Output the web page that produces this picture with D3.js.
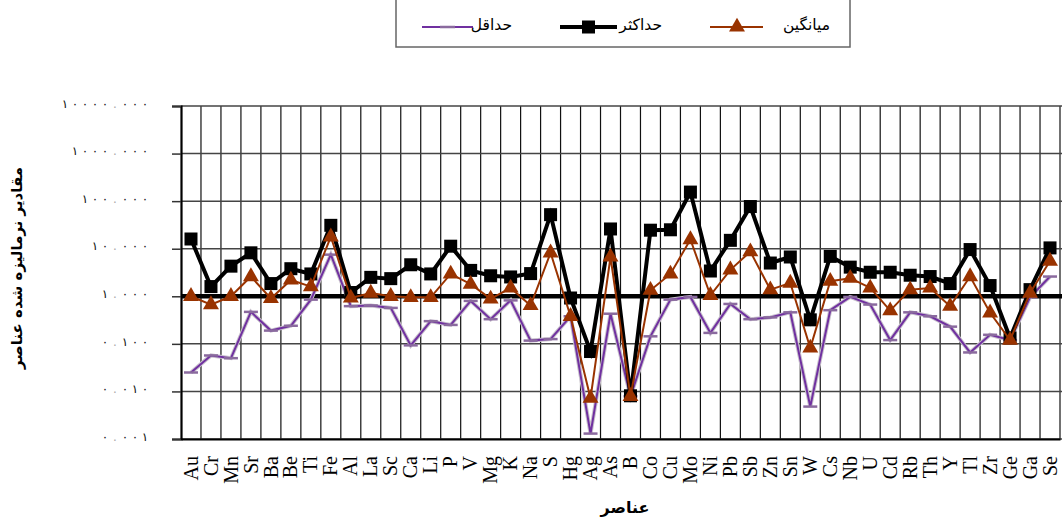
<!DOCTYPE html>
<html>
<head>
<meta charset="utf-8">
<script src="https://cdn.jsdelivr.net/npm/d3@7"></script>
<style>
  html, body { margin: 0; padding: 0; background: #fff; }
  svg { display: block; }
</style>
</head>
<body>
<svg id="chart" width="1062" height="525"></svg>
<script>
const categories = ["Au","Cr","Mn","Sr","Ba","Be","Ti","Fe","Al","La","Sc","Ca","Li","P","V","Mg","K","Na","S","Hg","Ag","As","B","Co","Cu","Mo","Ni","Pb","Sb","Zn","Sn","W","Cs","Nb","U","Cd","Rb","Th","Y","Tl","Zr","Ge","Ga","Se"];
const maxValues = [16,1.6,4.3,8.2,1.85,3.8,2.95,31,1.2,2.5,2.35,4.6,2.95,11.3,3.5,2.7,2.55,3.0,52,0.92,0.069,26,0.0081,24.5,25,155,3.4,15,77,5.0,6.7,0.32,6.9,4.1,3.2,3.2,2.77,2.6,1.85,9.6,1.68,0.133,1.38,10.4];
const meanValues = [1.0,0.67,1.0,2.6,0.9,2.2,1.6,17.8,0.92,1.17,1.0,0.95,0.95,2.95,1.8,0.88,1.5,0.64,8.2,0.38,0.0072,6.7,0.0079,1.34,2.95,15.6,1.05,3.6,8.7,1.38,1.9,0.082,2.07,2.4,1.5,0.5,1.38,1.5,0.62,2.6,0.45,0.12,1.17,5.5];
const minValues = [0.025,0.057,0.05,0.47,0.19,0.24,0.85,7.5,0.62,0.64,0.57,0.093,0.30,0.25,0.8,0.33,0.82,0.117,0.126,0.38,0.0013,0.43,0.0079,0.144,0.85,0.97,0.17,0.69,0.33,0.36,0.46,0.0048,0.51,0.97,0.67,0.12,0.46,0.38,0.23,0.066,0.155,0.12,0.95,2.6];
const tickValues = [0.001,0.01,0.1,1,10,100,1000,10000];
const tickLabels = ["٠.٠٠١","٠.٠١٠","٠.١٠٠","١.٠٠٠","١٠.٠٠٠","١٠٠.٠٠٠","١٠٠٠.٠٠٠","١٠٠٠٠.٠٠٠"];
const seriesNames = {mean: "میانگین", max: "حداکثر", min: "حداقل"};
const yTitle = "مقادیر نرمالیزه شده عناصر";
const xTitle = "عناصر";

const svg = d3.select("#chart");
const pLeft = 181, pRight = 1060, pTop = 106, pBottom = 439;
const x = d3.scaleBand().domain(categories).range([pLeft, pRight]).padding(0);
const y = d3.scaleLog().domain([0.001, 10000]).range([pBottom, pTop]);
const cx = d => x(d) + x.bandwidth() / 2;

const purple = "#7030A0", brown = "#993300";

// vertical gridlines (category boundaries)
const g = svg.append("g");
categories.forEach((c, i) => {
  if (i === 0) return;
  g.append("line").attr("x1", x(c)).attr("x2", x(c)).attr("y1", pTop).attr("y2", pBottom)
    .attr("stroke", "#111").attr("stroke-width", 1.2);
});
g.append("line").attr("x1", pRight).attr("x2", pRight).attr("y1", pTop).attr("y2", pBottom)
  .attr("stroke", "#111").attr("stroke-width", 1.2);

// horizontal gridlines
tickValues.forEach(v => {
  g.append("line").attr("x1", pLeft).attr("x2", 1062).attr("y1", y(v)).attr("y2", y(v))
    .attr("stroke", v === 1 ? "#000" : "#444").attr("stroke-width", v === 1 ? 4.5 : 1.5);
});

// y axis
const yAxis = d3.axisLeft(y).tickValues(tickValues).tickFormat((d, i) => tickLabels[i]).tickSize(9).tickPadding(24);
const ya = svg.append("g").attr("transform", `translate(${pLeft},0)`).call(yAxis);
ya.select(".domain").attr("stroke", "#000").attr("stroke-width", 2.2);
ya.selectAll(".tick line").attr("stroke", "#333").attr("stroke-width", 1.5);
// spread characters (letter-spacing is ignored for Arabic script)
ya.selectAll(".tick text").each(function(d, i) {
  const t = d3.select(this);
  const s = tickLabels[i];
  const step = 10;
  const n = s.length;
  const xEnd = +t.attr("x");
  t.text(null).attr("font-family", "DejaVu Sans").attr("font-size", 12)
    .attr("fill", "#111").attr("text-anchor", "middle").attr("direction", "ltr")
    .attr("dy", "0.1em");
  Array.from(s).forEach((ch, k) => {
    t.append("tspan").attr("x", xEnd - 3 - (n - 1 - k) * step).text(ch)
      .attr("fill", ch === "." ? "#aaa" : "#111");
  });
});

// x axis
const xAxis = d3.axisBottom(x).tickSize(0).tickPadding(0);
const xa = svg.append("g").attr("transform", `translate(0,${pBottom})`).call(xAxis);
xa.select(".domain").attr("stroke", "#000").attr("stroke-width", 2.2);
xa.selectAll(".tick text")
  .attr("font-family", "Liberation Serif").attr("font-size", 20).attr("fill", "#000")
  .attr("text-anchor", "end").attr("transform", "translate(0,17) rotate(-90)")
  .attr("x", 0).attr("y", 0).attr("dy", "0.33em");

// lines
const idx = d3.range(categories.length);
const lineGen = vals => d3.line().x(i => cx(categories[i])).y(i => y(vals[i]))(idx);

// min series
svg.append("path").attr("d", lineGen(minValues)).attr("fill", "none").attr("stroke", "#c8c0cc").attr("stroke-width", 4);
svg.append("path").attr("d", lineGen(minValues)).attr("fill", "none").attr("stroke", purple).attr("stroke-width", 2);
svg.append("g").selectAll("line").data(idx).join("line")
  .attr("x1", i => cx(categories[i]) - 7).attr("x2", i => cx(categories[i]) + 7)
  .attr("y1", i => y(minValues[i])).attr("y2", i => y(minValues[i]))
  .attr("stroke", "#8a6a9e").attr("stroke-width", 2.5);

// max series
svg.append("path").attr("d", lineGen(maxValues)).attr("fill", "none").attr("stroke", "#000").attr("stroke-width", 4);
svg.append("g").selectAll("rect").data(idx).join("rect")
  .attr("x", i => cx(categories[i]) - 6.5).attr("y", i => y(maxValues[i]) - 6.5)
  .attr("width", 13).attr("height", 13).attr("fill", "#000");

// mean series
svg.append("path").attr("d", lineGen(meanValues)).attr("fill", "none").attr("stroke", brown).attr("stroke-width", 2);
const tri = d3.symbol().type(d3.symbolTriangle).size(110);
svg.append("g").selectAll("path").data(idx).join("path")
  .attr("d", tri).attr("transform", i => `translate(${cx(categories[i])},${y(meanValues[i])})`)
  .attr("fill", brown);

// titles
svg.append("text").attr("transform", "translate(22,268) rotate(-90)")
  .attr("text-anchor", "middle").attr("font-family", "DejaVu Sans").attr("font-weight", "bold")
  .attr("font-size", 15).attr("direction", "rtl").text(yTitle);
svg.append("text").attr("x", 625).attr("y", 513)
  .attr("text-anchor", "middle").attr("font-family", "DejaVu Sans").attr("font-weight", "bold")
  .attr("font-size", 16).attr("direction", "rtl").text(xTitle);

// legend
const lg = svg.append("g");
lg.append("rect").attr("x", 396).attr("y", -5).attr("width", 454).attr("height", 52)
  .attr("fill", "#fff").attr("stroke", "#666").attr("stroke-width", 1.5);
const ly = 27;
const lfs = 15.5;
// min
lg.append("line").attr("x1", 422).attr("x2", 473).attr("y1", ly).attr("y2", ly).attr("stroke", purple).attr("stroke-width", 2);
lg.append("line").attr("x1", 440).attr("x2", 455).attr("y1", ly).attr("y2", ly).attr("stroke", "#8a6a9e").attr("stroke-width", 2.5);
lg.append("text").attr("x", 512).attr("y", ly + 3).attr("text-anchor", "end").attr("direction", "ltr")
  .attr("font-family", "DejaVu Sans").attr("font-size", lfs).text(seriesNames.min);
// max
lg.append("line").attr("x1", 560).attr("x2", 617).attr("y1", ly).attr("y2", ly).attr("stroke", "#000").attr("stroke-width", 4);
lg.append("rect").attr("x", 582).attr("y", ly - 6.5).attr("width", 13).attr("height", 13).attr("fill", "#000");
lg.append("text").attr("x", 662).attr("y", ly + 3).attr("text-anchor", "end").attr("direction", "ltr")
  .attr("font-family", "DejaVu Sans").attr("font-size", lfs).text(seriesNames.max);
// mean
lg.append("line").attr("x1", 710).attr("x2", 763).attr("y1", ly).attr("y2", ly).attr("stroke", brown).attr("stroke-width", 2);
lg.append("path").attr("d", tri).attr("transform", `translate(737,${ly})`).attr("fill", brown);
lg.append("text").attr("x", 830).attr("y", ly + 3).attr("text-anchor", "end").attr("direction", "ltr")
  .attr("font-family", "DejaVu Sans").attr("font-size", lfs).text(seriesNames.mean);
</script>
</body>
</html>
